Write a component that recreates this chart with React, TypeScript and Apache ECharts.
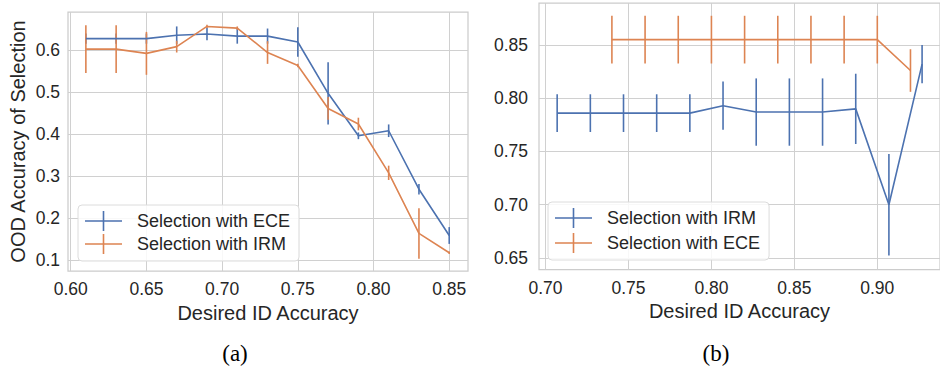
import React, { useEffect, useRef } from "react";
import * as echarts from "echarts";

// ---------- data ----------
// Panel (a)
const leftX = [0.61, 0.63, 0.65, 0.67, 0.69, 0.71, 0.73, 0.75, 0.77, 0.79, 0.81, 0.83, 0.85];
const leftEceMean = [0.627, 0.627, 0.627, 0.635, 0.638, 0.633, 0.633, 0.619, 0.497, 0.396, 0.408, 0.269, 0.159];
const leftEceErr = [0.012, 0.012, 0.012, 0.021, 0.015, 0.018, 0.018, 0.035, 0.074, 0.008, 0.015, 0.0125, 0.02];
const leftIrmMean = [0.602, 0.602, 0.592, 0.608, 0.656, 0.652, 0.594, 0.563, 0.461, 0.424, 0.308, 0.164, 0.118];
const leftIrmErr = [0.057, 0.057, 0.051, 0.014, 0.004, 0.004, 0.027, 0.004, 0.027, 0.015, 0.017, 0.06, 0.003];

// Panel (b)
const rightIrmX = [0.707, 0.727, 0.747, 0.767, 0.787, 0.807, 0.827, 0.847, 0.867, 0.887, 0.907, 0.927];
const rightIrmMean = [0.786, 0.786, 0.786, 0.786, 0.786, 0.793, 0.787, 0.787, 0.787, 0.790, 0.700, 0.832];
const rightIrmErr = [0.0177, 0.0177, 0.0177, 0.0177, 0.0177, 0.0227, 0.0316, 0.0316, 0.0316, 0.033, 0.0477, 0.018];
const rightEceX = [0.74, 0.76, 0.78, 0.80, 0.82, 0.84, 0.86, 0.88, 0.90, 0.92];
const rightEceMean = [0.855, 0.855, 0.855, 0.855, 0.855, 0.855, 0.855, 0.855, 0.855, 0.826];
const rightEceErr = [0.0224, 0.0224, 0.0224, 0.0224, 0.0224, 0.0224, 0.0224, 0.0224, 0.0224, 0.02];

// tick labels
const leftXTicks = [0.6, 0.65, 0.7, 0.75, 0.8, 0.85];
const leftYTicks = [0.1, 0.2, 0.3, 0.4, 0.5, 0.6];
const rightXTicks = [0.7, 0.75, 0.8, 0.85, 0.9];
const rightYTicks = [0.65, 0.7, 0.75, 0.8, 0.85];

const seriesNames: Record<string, string> = {
  lEce: "Selection with ECE",
  lIrm: "Selection with IRM",
  rIrm: "Selection with IRM",
  rEce: "Selection with ECE",
};

const BLUE = "#4C72B0";
const ORANGE = "#DD8452";
const GRID = "#d0d0d0";
const TEXT = "#262626";
const FONT = "Liberation Sans";

function lineSeries(id: string, xs: number[], ys: number[], color: string, idx: number) {
  return {
    type: "line",
    name: id,
    xAxisIndex: idx,
    yAxisIndex: idx,
    data: xs.map((x, i) => [x, ys[i]]),
    showSymbol: false,
    symbol: "none",
    lineStyle: { color, width: 1.6 },
    itemStyle: { color },
    z: 3,
  };
}

function errSeries(id: string, xs: number[], ys: number[], errs: number[], color: string, idx: number) {
  return {
    type: "custom",
    name: id + "_err",
    xAxisIndex: idx,
    yAxisIndex: idx,
    data: xs.map((x, i) => [x, ys[i] - errs[i], ys[i] + errs[i]]),
    renderItem: (_p: any, api: any) => {
      const a = api.coord([api.value(0), api.value(1)]);
      const b = api.coord([api.value(0), api.value(2)]);
      return {
        type: "line",
        shape: { x1: a[0], y1: a[1], x2: b[0], y2: b[1] },
        style: { stroke: color, lineWidth: 1.6 },
      };
    },
    z: 3,
  };
}

const axisLabelBase = { color: TEXT, fontSize: 17.5, fontFamily: FONT };
const splitLine = { show: true, lineStyle: { color: GRID, width: 1 } };

function valueAxis(gridIndex: number, min: number, max: number, ticks: number[], digits: number, margin: number, extra: any = {}) {
  return {
    type: "value",
    gridIndex,
    min,
    max,
    axisLine: { show: false },
    axisTick: { show: false, customValues: ticks },
    axisLabel: { ...axisLabelBase, margin, customValues: ticks, formatter: (v: number) => v.toFixed(digits) },
    splitLine,
    ...extra,
  };
}

const LEGEND_ICON = "path://M0,9.2H37V10.8H0Z M17.7,0H19.3V20H17.7Z";

function legend(left: number, top: number, data: string[], gap: number) {
  return {
    left,
    top,
    orient: "vertical",
    data,
    icon: LEGEND_ICON,
    itemWidth: 37,
    itemHeight: 20,
    itemGap: gap,
    padding: [6, 9, 7, 7],
    backgroundColor: "rgba(255,255,255,0.85)",
    borderColor: "#dcdcdc",
    borderWidth: 1,
    borderRadius: 4,
    formatter: (n: string) => seriesNames[n],
    textStyle: { color: TEXT, fontSize: 18, fontFamily: FONT, padding: [0, 0, 0, 10] },
    selectedMode: false,
  };
}

export default function App() {
  const ref = useRef<HTMLDivElement>(null);
  useEffect(() => {
    if (!ref.current) return;
    const chart = echarts.init(ref.current, null, { renderer: "svg" });
    const nameStyle = { color: TEXT, fontSize: 20, fontFamily: FONT };
    chart.setOption({
      animation: false,
      backgroundColor: "#ffffff",
      grid: [
        { left: 68, top: 12, width: 400, height: 259, show: true, borderColor: "#cccccc", borderWidth: 1.25, backgroundColor: "transparent" },
        { left: 539, top: 3, width: 410, height: 266.5, show: true, borderColor: "#cccccc", borderWidth: 1.25, backgroundColor: "transparent" },
      ],
      xAxis: [
        valueAxis(0, 0.5982, 0.8624, leftXTicks, 2, 9, {
          name: "Desired ID Accuracy", nameLocation: "middle", nameGap: 30, nameTextStyle: nameStyle,
        }),
        valueAxis(1, 0.69605, 0.9378, rightXTicks, 2, 9, {
          name: "Desired ID Accuracy", nameLocation: "middle", nameGap: 29, nameTextStyle: nameStyle,
        }),
      ],
      yAxis: [
        valueAxis(0, 0.0746, 0.6903, leftYTicks, 1, 8, {
          name: "OOD Accuracy of Selection", nameLocation: "middle", nameGap: 40, nameTextStyle: nameStyle,
        }),
        valueAxis(1, 0.6392, 0.8894, rightYTicks, 2, 11),
      ],
      legend: [
        legend(78, 205, ["lEce", "lIrm"], 3),
        legend(548, 202, ["rIrm", "rEce"], 5),
      ],
      series: [
        lineSeries("lEce", leftX, leftEceMean, BLUE, 0),
        errSeries("lEce", leftX, leftEceMean, leftEceErr, BLUE, 0),
        lineSeries("lIrm", leftX, leftIrmMean, ORANGE, 0),
        errSeries("lIrm", leftX, leftIrmMean, leftIrmErr, ORANGE, 0),
        lineSeries("rIrm", rightIrmX, rightIrmMean, BLUE, 1),
        errSeries("rIrm", rightIrmX, rightIrmMean, rightIrmErr, BLUE, 1),
        lineSeries("rEce", rightEceX, rightEceMean, ORANGE, 1),
        errSeries("rEce", rightEceX, rightEceMean, rightEceErr, ORANGE, 1),
      ],
      graphic: [
        { type: "text", x: 235, y: 353, style: { text: "(a)", fontSize: 23, fontFamily: "Liberation Serif", fill: "#000", align: "center", verticalAlign: "middle" } },
        { type: "text", x: 716, y: 353, style: { text: "(b)", fontSize: 23, fontFamily: "Liberation Serif", fill: "#000", align: "center", verticalAlign: "middle" } },
      ],
    });
    return () => chart.dispose();
  }, []);
  return <div ref={ref} style={{ position: "absolute", left: 0, top: 0, width: 940, height: 370, overflow: "hidden" }} />;
}
